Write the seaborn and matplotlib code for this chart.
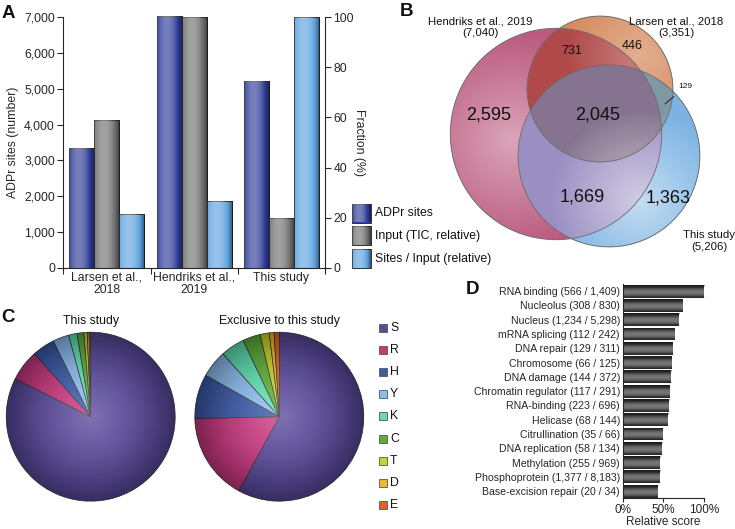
import numpy as np
import pandas as pd
import matplotlib
matplotlib.use("Agg")
import matplotlib.pyplot as plt
from matplotlib.patches import Circle, Rectangle
from matplotlib.colors import to_rgb
import seaborn as sns

# -----------------------------
# Data
# -----------------------------
# A: site counts and relative fractions
studies = ["Larsen et al.,\n2018", "Hendriks et al.,\n2019", "This study"]
series = ["ADPr sites", "Input (TIC, relative)", "Sites / Input (relative)"]
adpr_sites = [3351, 7040, 5206]
input_pct = [59.0, 100.0, 19.7]
ratio_pct = [21.4, 26.6, 100.0]

# B: venn
venn_names = ["Hendriks et al., 2019", "Larsen et al., 2018", "This study"]
venn_totals = [7040, 3351, 5206]
region_keys = ["H", "HL", "L", "HLT", "HT", "LT", "T"]
region_counts = [2595, 731, 446, 2045, 1669, 129, 1363]

# C: residue distribution (%)
residues = ["S", "R", "H", "Y", "K", "C", "T", "D", "E"]
pct_this = [82.4, 6.0, 4.3, 3.1, 1.6, 1.3, 0.65, 0.35, 0.3]
pct_excl = [58.0, 16.7, 8.5, 5.2, 4.6, 3.4, 1.75, 0.9, 1.0]

# D: term enrichment
terms = ["RNA binding", "Nucleolus", "Nucleus", "mRNA splicing", "DNA repair",
         "Chromosome", "DNA damage", "Chromatin regulator", "RNA-binding",
         "Helicase", "Citrullination", "DNA replication", "Methylation",
         "Phosphoprotein", "Base-excision repair"]
term_hits = [566, 308, 1234, 112, 129, 66, 144, 117, 223, 68, 35, 58, 255, 1377, 20]
term_totals = [1409, 830, 5298, 242, 311, 125, 372, 291, 696, 144, 66, 134, 969, 8183, 34]
rel_score = [100, 73.8, 69.3, 63.9, 61.5, 60.2, 59.4, 57.8, 56.6, 56.1,
             50.0, 48.0, 46.3, 45.9, 43.0]

# -----------------------------
# Style
# -----------------------------
sns.set_style("ticks")
plt.rcParams["font.family"] = ["Liberation Sans", "DejaVu Sans"]
plt.rcParams["text.color"] = "#111111"

W, H = 735, 529
fig = plt.figure(figsize=(W / 100, H / 100), dpi=100)

bar_colors = ["#2f3c98", "#707070", "#5ea3df"]
res_colors = ["#5a4a9c", "#c8387f", "#3b5ba8", "#8cbdf0", "#5fe0b2",
              "#5fae3c", "#c9d42a", "#f2b82a", "#e0661f"]


def sheen(ax, p, along="x", peak=0.38):
    # cylinder-like shading clipped to a bar
    t = np.linspace(0, 1, 64)
    lum = np.clip(1 - ((t - peak) / (1 - peak)) ** 2, 0, 1)
    rgba = np.zeros((64, 4))
    hi = lum > 0.55
    rgba[hi, :3] = 1
    rgba[hi, 3] = 0.35 * (lum[hi] - 0.55) / 0.45
    rgba[~hi, 3] = 0.5 * (0.55 - lum[~hi]) / 0.55
    img = rgba[None, :, :] if along == "x" else rgba[:, None, :]
    x, y, w, h = p.get_x(), p.get_y(), p.get_width(), p.get_height()
    im = ax.imshow(img, extent=(x, x + w, y, y + h), aspect="auto",
                   interpolation="bilinear", zorder=p.get_zorder() + 0.1)
    im.set_clip_path(p)


def px(x, y, w, h):
    return [x / W, 1 - (y + h) / H, w / W, h / H]


# -----------------------------
# A
# -----------------------------
scale = 7000 / 100
df_a = pd.DataFrame({
    "study": studies * 3,
    "series": np.repeat(series, 3),
    "value": adpr_sites + [v * scale for v in input_pct] + [v * scale for v in ratio_pct],
})
ax_a = fig.add_axes(px(63.3, 17.3, 261.7, 250.4))
sns.barplot(data=df_a, x="study", y="value", hue="series", order=studies,
            hue_order=series, palette=bar_colors, width=0.86, saturation=1,
            edgecolor="#333333", linewidth=0.7, legend=False, ax=ax_a)
for p in ax_a.patches:
    p.set_clip_on(False)
    sheen(ax_a, p, "x")
ax_a.set_xlim(-0.5, 2.5)
ax_a.set_ylim(0, 7000)
ax_a.set_yticks(range(0, 7001, 1000))
ax_a.set_yticklabels([f"{v:,}" for v in range(0, 7001, 1000)], fontsize=8.8)
ax_a.set_xticks([0, 1, 2])
ax_a.set_xticklabels(studies, fontsize=8.8, linespacing=1.05)
ax_a.set_xticks([-0.5, 0.5, 1.5, 2.5], minor=True)
ax_a.tick_params(axis="x", which="major", length=0, pad=3)
ax_a.tick_params(axis="x", which="minor", length=4, width=0.8)
ax_a.tick_params(axis="y", length=4, width=0.8, pad=2)
ax_a.set_xlabel("")
ax_a.set_ylabel("ADPr sites (number)", fontsize=8.8, labelpad=4)
ax_a.spines["top"].set_visible(False)
ax_a.spines["right"].set_visible(False)
sec = ax_a.secondary_yaxis("right", functions=(lambda v: v / scale, lambda v: v * scale))
sec.set_yticks(range(0, 101, 20))
sec.tick_params(labelsize=8.8, length=4, width=0.8, pad=2)
sec.set_ylabel("Fraction (%)", fontsize=8.8, rotation=-90, labelpad=8)

# -----------------------------
# D
# -----------------------------
d_labels = [f"{t} ({a:,} / {b:,})" for t, a, b in zip(terms, term_hits, term_totals)]
df_d = pd.DataFrame({"term": d_labels, "score": rel_score})
ax_d = fig.add_axes(px(622.7, 284, 81.3, 214.3))
sns.barplot(data=df_d, x="score", y="term", orient="h", color="#2e2e2e",
            width=0.9, saturation=1, linewidth=0, ax=ax_d)
for p in ax_d.patches:
    sheen(ax_d, p, "y", peak=0.45)
ax_d.set_xlim(0, 100)
ax_d.set_ylim(14.5, -0.5)
ax_d.set_xticks([0, 50, 100])
ax_d.set_xticklabels(["0%", "50%", "100%"], fontsize=8.5)
ax_d.tick_params(axis="y", labelsize=7.6, length=0, pad=2)
ax_d.tick_params(axis="x", length=3, width=0.8, pad=1)
ax_d.set_ylabel("")
ax_d.set_xlabel("Relative score", fontsize=8.5, labelpad=0)
sns.despine(ax=ax_d)

# -----------------------------
# canvas for B, C and labels (pixel coords, y down)
# -----------------------------
cv = fig.add_axes([0, 0, 1, 1])
cv.patch.set_alpha(0)

# B: area-proportional circles
k = 1.26
radii = [k * np.sqrt(n) for n in venn_totals]
centers = [(556, 134), (600, 89), (609, 156)]
x0, x1, y0, y1 = 440, 706, 14, 252
nx, ny = (x1 - x0) * 3, (y1 - y0) * 3
gx, gy = np.meshgrid(np.linspace(x0, x1, nx), np.linspace(y0, y1, ny))
ins = [(gx - cx) ** 2 + (gy - cy) ** 2 <= r ** 2 for (cx, cy), r in zip(centers, radii)]
ih, il, it = ins
region_masks = {
    "H": ih & ~il & ~it, "HL": ih & il & ~it, "L": il & ~ih & ~it,
    "HLT": ih & il & it, "HT": ih & it & ~il, "LT": il & it & ~ih, "T": it & ~ih & ~il,
}
region_colors = {"H": "#bc5c80", "HL": "#b04a4a", "L": "#d68c60", "HLT": "#86748f",
                 "HT": "#9a8ec2", "LT": "#7f98a4", "T": "#7cb3e3"}
img = np.zeros((ny, nx, 4))
for key in region_keys:
    m = region_masks[key]
    img[m, :3] = to_rgb(region_colors[key])
    img[m, 3] = 1
top = np.where(it, 2, np.where(il, 1, np.where(ih, 0, -1)))
highlights = [(512, 140), (640, 55), (640, 200)]
lifts = [0.45, 0.3, 0.55]
for i in range(3):
    m = top == i
    d = np.hypot(gx - highlights[i][0], gy - highlights[i][1])
    w = lifts[i] * np.clip(1 - d / radii[i], 0, 1)
    img[m, :3] += (1 - img[m, :3]) * w[m, None]
cv.imshow(img, extent=(x0, x1, y1, y0), interpolation="bilinear", zorder=1)
for (cx, cy), r in zip(centers, radii):
    cv.add_patch(Circle((cx, cy), r, fill=False, edgecolor="#6a6a6a", lw=0.6, zorder=2))

region_pos = {"H": (489, 115), "HL": (572, 51), "L": (632, 46), "HLT": (598, 115),
              "HT": (582, 197), "T": (668, 198)}
for key, n in zip(region_keys, region_counts):
    if key == "LT":
        cv.annotate(f"{n:,}", xy=(665, 104), xytext=(685, 87), fontsize=6,
                    ha="center", va="center", zorder=3,
                    arrowprops=dict(arrowstyle="-", lw=0.6, color="#111111",
                                    shrinkA=3, shrinkB=0))
        continue
    big = n > 1000
    cv.text(*region_pos[key], f"{n:,}", fontsize=13 if big else 9,
            ha="center", va="center", zorder=3)

name_pos = [(480, 27), (676, 27), (709, 241)]
for (tx, ty), name, n in zip(name_pos, venn_names, venn_totals):
    cv.text(tx, ty, f"{name}\n({n:,})", fontsize=8.2, ha="center", va="center",
            linespacing=1.15, zorder=3)

# C: pies
pie_centers = [(90.7, 416.7), (279.3, 416.7)]
pie_r = 84.5
for (cx, cy), vals, title in zip(pie_centers, [pct_this, pct_excl],
                                 ["This study", "Exclusive to this study"]):
    cv.pie(vals, colors=res_colors, center=(cx, cy), radius=pie_r, startangle=-90,
           counterclock=True, frame=True,
           wedgeprops=dict(edgecolor="#333333", linewidth=0.5))
    g = np.linspace(-1, 1, 300)
    xx, yy = np.meshgrid(g, g)
    rho = np.clip(np.hypot(xx, yy), 0, 1)
    dark = np.zeros((300, 300, 4))
    dark[..., 3] = 0.38 * rho ** 2.2
    light = np.ones((300, 300, 4))
    light[..., 3] = 0.22 * (1 - rho) ** 1.5
    clip = Circle((cx, cy), pie_r, transform=cv.transData)
    for layer in (dark, light):
        im = cv.imshow(layer, extent=(cx - pie_r, cx + pie_r, cy + pie_r, cy - pie_r),
                       interpolation="bilinear", zorder=2)
        im.set_clip_path(clip)
    cv.text(cx, 321, title, fontsize=8.8, ha="center", va="center")

# legend C
for i, (res, col) in enumerate(zip(residues, res_colors)):
    ly = 328 + i * 22.1
    cv.add_patch(Rectangle((379, ly - 4), 8, 8, facecolor=col, edgecolor="#555555", lw=0.6))
    cv.text(390, ly, res, fontsize=8.8, ha="left", va="center")

# legend A
for i, (lab, col) in enumerate(zip(series, bar_colors)):
    ly = 203.5 + i * 22.8
    r = Rectangle((352, ly), 19, 19, facecolor=col, edgecolor="#333333", lw=0.7)
    cv.add_patch(r)
    sheen(cv, r, "x")
    cv.text(375, ly + 9.5, lab, fontsize=8.8, ha="left", va="center")

# panel letters
for letter, (lx, ly) in zip("ABCD", [(8.5, 13), (407, 12), (8.5, 318), (473, 290)]):
    cv.text(lx, ly, letter, fontsize=13.5, fontweight="bold", ha="center", va="center")

cv.set_aspect("auto")
cv.set_xlim(0, W)
cv.set_ylim(H, 0)
cv.axis("off")

fig.savefig("out.png", dpi=100)
